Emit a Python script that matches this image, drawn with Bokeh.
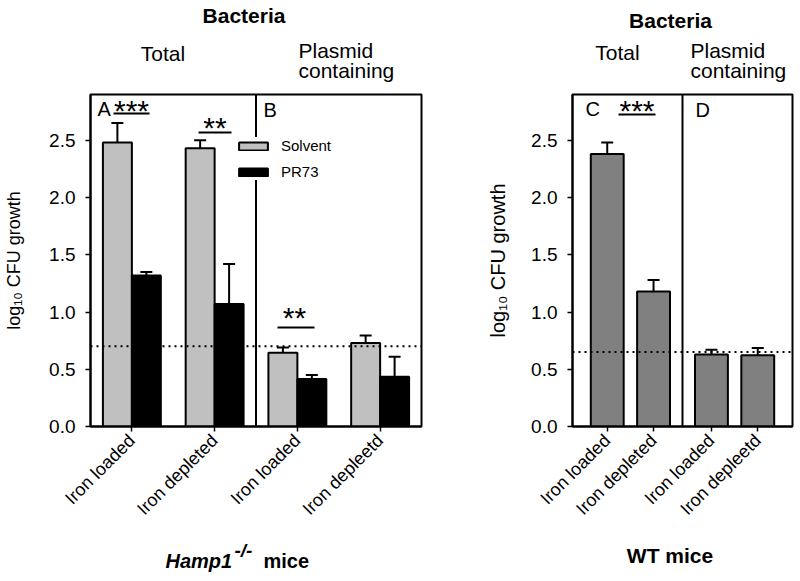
import numpy as np
from math import pi
from bokeh.plotting import figure
from bokeh.layouts import row, column
from bokeh.models import (ColumnDataSource, Whisker, TeeHead, Span, Label,
                          FixedTicker, PrintfTickFormatter, Range1d)
from bokeh.core.properties import value
from bokeh.embed import file_html
from bokeh.resources import INLINE

# ---------------- data ----------------
categories = ["Iron loaded", "Iron depleted", "Iron loaded", "Iron depleetd"]
y_ticks = [0.0, 0.5, 1.0, 1.5, 2.0, 2.5]
y_label = "log\u2081\u2080 CFU growth"

hamp_solvent = [2.48, 2.43, 0.645, 0.73]
hamp_solvent_err = [0.17, 0.07, 0.045, 0.065]
hamp_pr73 = [1.32, 1.07, 0.415, 0.435]
hamp_pr73_err = [0.03, 0.35, 0.035, 0.175]
hamp_threshold = 0.70

wt_values = [2.38, 1.18, 0.63, 0.623]
wt_err = [0.10, 0.10, 0.04, 0.062]
wt_threshold = 0.65

FONT = "Liberation Sans"
BASE_K = 0.36   # empirical baseline correction (fraction of font size)

# ---------------- geometry (page pixels) ----------------
TOTAL_W = 800
HEAD_H = 86
MID_H = 454
FOOT_H = 40
MID_TOP = HEAD_H
MID_BOT = HEAD_H + MID_H
FRAME_TOP_B = 8
FRAME_H = 332
Y_MAX = 2.9
FRAME_BOTTOM_PAGE = MID_TOP + FRAME_TOP_B + FRAME_H

P1_MBL, P1_FW, P1_MBR = 90, 331, 63
P2_MBL, P2_FW, P2_MBR = 86, 220, 10

P1_FRAME_X = P1_MBL
P2_FRAME_X = P1_MBL + P1_FW + P1_MBR + P2_MBL

L_X_MAX = 4.0
l_pos = np.arange(4) + 0.5
l_sep = 2.0
bw = 0.35

R_X_MAX = 4.75
r_pos = np.array([0.75, 1.75, 3.0, 4.0])
r_sep = 2.375
r_bw = 0.71


def make_fig(mbl, fw, mbr, xmax, label_size, label_standoff):
    p = figure(frame_width=fw, frame_height=FRAME_H, output_backend="svg",
               toolbar_location=None,
               x_range=Range1d(0, xmax), y_range=Range1d(0, Y_MAX),
               min_border_left=mbl, min_border_right=mbr,
               min_border_top=FRAME_TOP_B, min_border_bottom=MID_H - FRAME_TOP_B - FRAME_H)
    p.grid.visible = False
    p.outline_line_color = "black"
    p.outline_line_width = 2
    p.outline_line_alpha = 1
    p.background_fill_color = "white"
    p.border_fill_color = "white"
    for ax in (p.xaxis[0], p.yaxis[0]):
        ax.axis_line_width = 2
        ax.axis_line_color = "black"
        ax.major_tick_line_color = "black"
        ax.major_tick_line_width = 1.5
        ax.major_tick_out = 5
        ax.major_tick_in = 0
        ax.minor_tick_line_color = None
        ax.major_label_text_font = FONT
        ax.major_label_text_font_size = "18px"
        ax.major_label_text_color = "black"
    p.yaxis.ticker = FixedTicker(ticks=y_ticks)
    p.yaxis.formatter = PrintfTickFormatter(format="%.1f")
    p.yaxis.major_label_text_font_size = "19px"
    p.yaxis.major_label_standoff = 10
    p.yaxis.axis_label = y_label
    p.yaxis.axis_label_text_font = FONT
    p.yaxis.axis_label_text_font_size = label_size
    p.yaxis.axis_label_text_font_style = "normal"
    p.yaxis.axis_label_text_color = "black"
    p.yaxis.axis_label_standoff = label_standoff
    p.xaxis.major_label_orientation = pi / 4
    p.xaxis.major_label_standoff = 6
    return p


def text_fig(width, height, x0, y0):
    """A blank figure whose data coordinates equal page pixels."""
    p = figure(width=width, height=height, output_backend="svg", toolbar_location=None,
               x_range=Range1d(x0, x0 + width), y_range=Range1d(y0 + height, y0),
               x_axis_location=None, y_axis_location=None, min_border=0)
    p.grid.visible = False
    p.outline_line_color = None
    p.background_fill_color = "white"
    p.border_fill_color = "white"
    return p


def gtext(p, x, y, text, size, style="normal", align="left"):
    s = float(size.replace("px", ""))
    p.text(x=[x], y=[y - BASE_K * s], text=[text], text_font=value(FONT),
           text_font_size=value(size), text_font_style=style, text_align=align,
           text_baseline="alphabetic", text_color="black")


def conv(page_x0, fw, xmax):
    def fx(px):
        return (px - page_x0) / (fw / xmax)

    def fy(py):
        return (FRAME_BOTTOM_PAGE - py) / (FRAME_H / Y_MAX)
    return fx, fy


def lab(p, fx, fy, px, py, text, size, align="left"):
    s = float(size.replace("px", ""))
    p.add_layout(Label(x=fx(px), y=fy(py - BASE_K * s), text=text, text_font=FONT,
                       text_font_size=size, text_align=align, text_baseline="alphabetic",
                       text_color="black"))


# ================= header =================
head = text_fig(TOTAL_W, HEAD_H, 0, 0)
gtext(head, 243.5, 23, "Bacteria", "21px", "bold", "center")
gtext(head, 162.5, 61, "Total", "21px", "normal", "center")
gtext(head, 298, 58, "Plasmid", "21px")
gtext(head, 298, 78, "containing", "21px")
gtext(head, 670, 28, "Bacteria", "21px", "bold", "center")
gtext(head, 617, 60, "Total", "21px", "normal", "center")
gtext(head, 690, 58, "Plasmid", "21px")
gtext(head, 690, 78, "containing", "21px")

# ================= left panel =================
p1 = make_fig(P1_MBL, P1_FW, P1_MBR, L_X_MAX, "18px", 22)
lx, ly = conv(P1_FRAME_X, P1_FW, L_X_MAX)

p1.xaxis.ticker = FixedTicker(ticks=list(l_pos))
p1.xaxis.major_label_overrides = {float(v): c for v, c in zip(l_pos, categories)}

src_s = ColumnDataSource(dict(x=l_pos - bw / 2, top=hamp_solvent,
                              up=np.array(hamp_solvent) + np.array(hamp_solvent_err)))
src_p = ColumnDataSource(dict(x=l_pos + bw / 2, top=hamp_pr73,
                              up=np.array(hamp_pr73) + np.array(hamp_pr73_err)))

p1.add_layout(Span(location=l_sep, dimension="height", line_color="black", line_width=2))
p1.add_layout(Span(location=hamp_threshold, dimension="width", line_color="black",
                   line_width=2, line_dash="2 4"))
for src in (src_s, src_p):
    p1.add_layout(Whisker(base="x", lower="top", upper="up", source=src, lower_head=None,
                          upper_head=TeeHead(size=12, line_width=2), line_width=2,
                          level="glyph"))

p1.vbar(x="x", top="top", width=bw, bottom=0, source=src_s, fill_color="#c0c0c0",
        line_color="black", line_width=2, legend_label="Solvent")
p1.vbar(x="x", top="top", width=bw, bottom=0, source=src_p, fill_color="black",
        line_color="black", line_width=2, legend_label="PR73")

sig_l = dict(x0=[lx(113), lx(198), lx(277)], x1=[lx(149), lx(231), lx(314)],
             y=[ly(113), ly(132), ly(327)])
p1.segment(x0="x0", y0="y", x1="x1", y1="y", source=ColumnDataSource(sig_l),
           line_color="black", line_width=2)

lg = p1.legend[0]
lg.location = (235 - P1_FRAME_X, FRAME_BOTTOM_PAGE - 180)
lg.background_fill_color = "white"
lg.background_fill_alpha = 1
lg.border_line_color = None
lg.padding = 6
lg.margin = 0
lg.glyph_width = 36
lg.glyph_height = 10
lg.label_height = 10
lg.spacing = 9
lg.label_standoff = 10
lg.label_text_font = FONT
lg.label_text_font_size = "15px"
lg.label_text_color = "black"

lab(p1, lx, ly, 97, 116, "A", "20px")
lab(p1, lx, ly, 263, 117, "B", "20px")
lab(p1, lx, ly, 131, 121, "***", "30px", "center")
lab(p1, lx, ly, 214.5, 138, "**", "30px", "center")
lab(p1, lx, ly, 294, 328, "**", "30px", "center")

# ================= right panel =================
p2 = make_fig(P2_MBL, P2_FW, P2_MBR, R_X_MAX, "20px", 19)
rx, ry = conv(P2_FRAME_X, P2_FW, R_X_MAX)

p2.xaxis.ticker = FixedTicker(ticks=list(r_pos))
p2.xaxis.major_label_overrides = {float(v): c for v, c in zip(r_pos, categories)}

src_w = ColumnDataSource(dict(x=r_pos, top=wt_values,
                              up=np.array(wt_values) + np.array(wt_err)))
p2.add_layout(Span(location=r_sep, dimension="height", line_color="black", line_width=2))
p2.add_layout(Span(location=wt_threshold, dimension="width", line_color="black",
                   line_width=2, line_dash="2 4"))
p2.add_layout(Whisker(base="x", lower="top", upper="up", source=src_w, lower_head=None,
                      upper_head=TeeHead(size=12, line_width=2), line_width=2, level="glyph"))
p2.vbar(x="x", top="top", width=r_bw, bottom=0, source=src_w, fill_color="#808080",
        line_color="black", line_width=2)

sig_r = dict(x0=[rx(616)], x1=[rx(653)], y=[ry(114)])
p2.segment(x0="x0", y0="y", x1="x1", y1="y", source=ColumnDataSource(sig_r),
           line_color="black", line_width=2)

lab(p2, rx, ry, 583, 116, "C", "20px")
lab(p2, rx, ry, 693, 117, "D", "20px")
lab(p2, rx, ry, 634.5, 121, "***", "30px", "center")

# ================= footer =================
foot = text_fig(TOTAL_W, FOOT_H, 0, MID_BOT)
gtext(foot, 165, 568, "Hamp1", "20px", "bold italic")
gtext(foot, 234, 557, "-/-", "19px", "bold italic")
gtext(foot, 263, 568, "mice", "20px", "bold")
gtext(foot, 669.5, 563, "WT mice", "21px", "bold", "center")

layout = column(head, row(p1, p2, spacing=0), foot, spacing=0)
open("out.html", "w").write(file_html(layout, INLINE))
